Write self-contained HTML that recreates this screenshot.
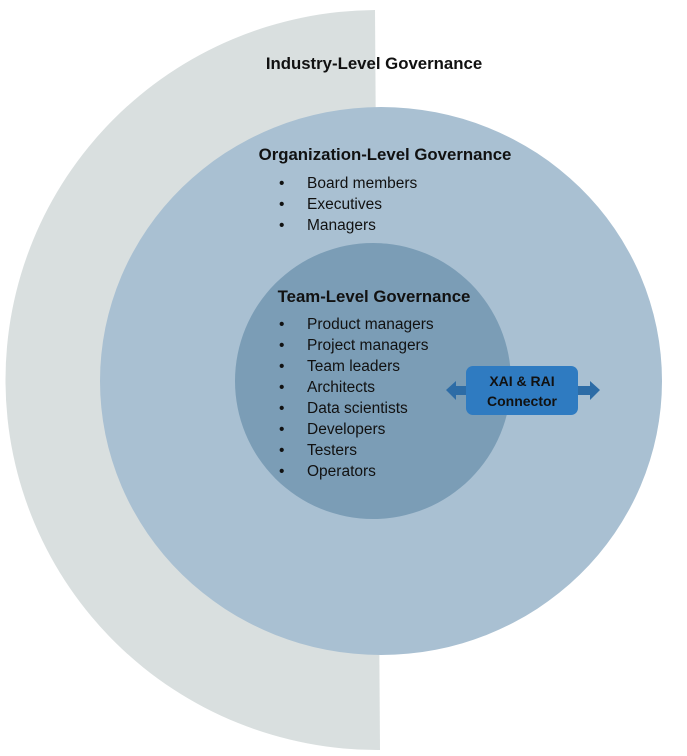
<!DOCTYPE html>
<html><head><meta charset="utf-8"><style>
body{margin:0;background:#fff;}
svg{display:block;font-family:"Liberation Sans",sans-serif;}
</style></head><body>
<svg width="687" height="756" viewBox="0 0 687 756">
<path d="M375 10 A372 370 0 0 0 380 750 Z" fill="#d9dfdf"/>
<text x="374" y="69" text-anchor="middle" font-size="16.8" font-weight="bold" fill="#111">Industry-Level Governance</text>
<ellipse cx="381" cy="381" rx="281" ry="274" fill="#a9c0d2"/>
<text x="385" y="160" text-anchor="middle" font-size="16.8" font-weight="bold" fill="#111">Organization-Level Governance</text>
<g font-size="15.5" fill="#111">
<text x="279" y="188">•</text><text x="307" y="188">Board members</text>
<text x="279" y="209">•</text><text x="307" y="209">Executives</text>
<text x="279" y="230">•</text><text x="307" y="230">Managers</text>
</g>
<circle cx="373" cy="381" r="138" fill="#7b9db6"/>
<text x="374" y="302" text-anchor="middle" font-size="16.8" font-weight="bold" fill="#111">Team-Level Governance</text>
<g font-size="15.5" fill="#111">
<text x="279" y="329">•</text><text x="307" y="329">Product managers</text>
<text x="279" y="350">•</text><text x="307" y="350">Project managers</text>
<text x="279" y="371">•</text><text x="307" y="371">Team leaders</text>
<text x="279" y="392">•</text><text x="307" y="392">Architects</text>
<text x="279" y="413">•</text><text x="307" y="413">Data scientists</text>
<text x="279" y="434">•</text><text x="307" y="434">Developers</text>
<text x="279" y="455">•</text><text x="307" y="455">Testers</text>
<text x="279" y="476">•</text><text x="307" y="476">Operators</text>
</g>
<g fill="#2d6ca6">
<polygon points="446,390 456,381 456,386 470,386 470,395 456,395 456,400"/>
<polygon points="600,390 590,381 590,386 574,386 574,395 590,395 590,400"/>
</g>
<rect x="466" y="366" width="112" height="49" rx="7" fill="#2f7bc1"/>
<text x="522" y="386" text-anchor="middle" font-size="14" font-weight="bold" fill="#111">XAI &amp; RAI</text>
<text x="522" y="406" text-anchor="middle" font-size="14" font-weight="bold" fill="#111">Connector</text>
</svg>
</body></html>
